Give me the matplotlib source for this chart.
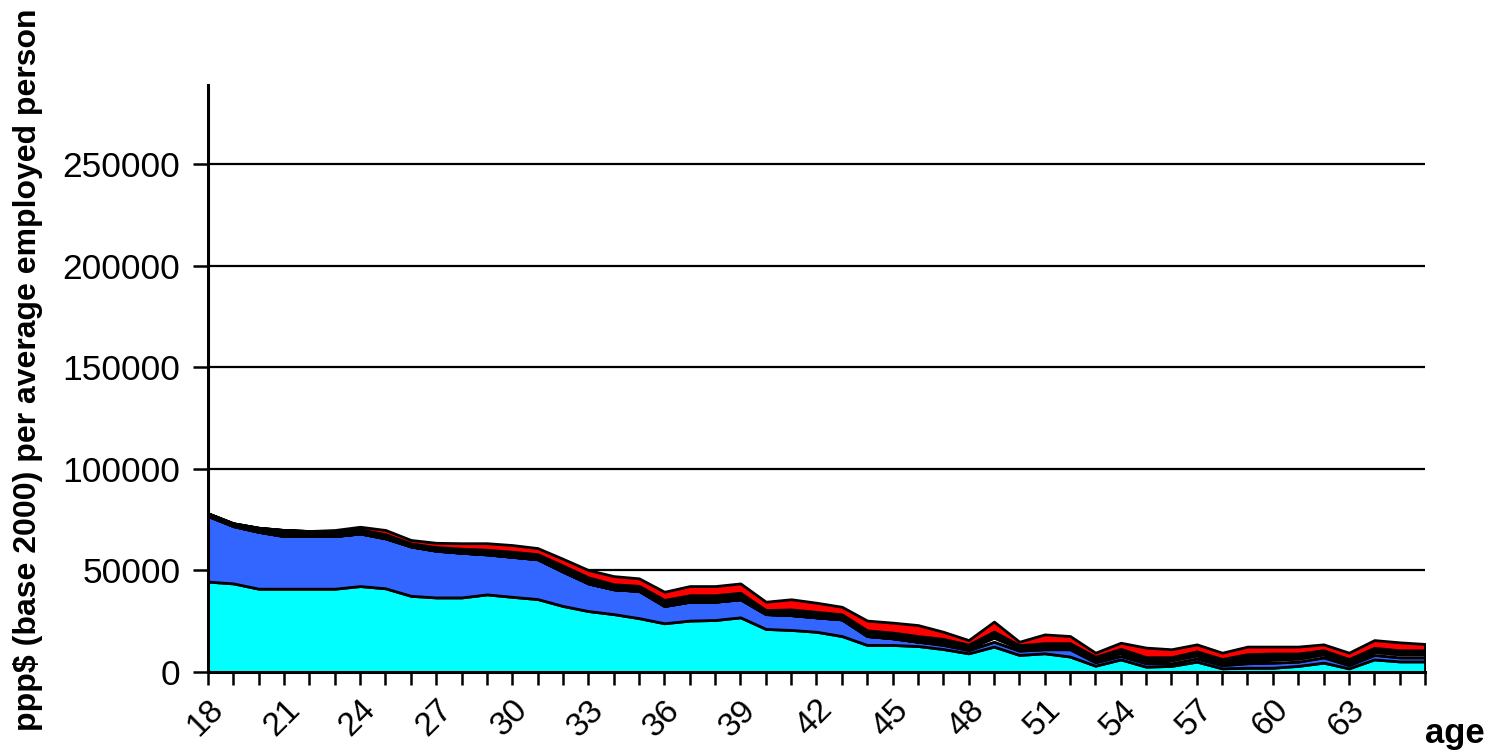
import matplotlib
matplotlib.use("Agg")
from matplotlib import pyplot as plt

plt.rcParams['font.family'] = ['Liberation Sans', 'DejaVu Sans']

ages = list(range(18, 67))

# layer values, bottom to top
cyan = [44500, 43600, 41000, 41000, 41000, 41000, 42300, 41200, 37500, 36700,
        36700, 38200, 37000, 35900, 32500, 30000, 28500, 26500, 24000, 25300,
        25600, 26900, 21200, 20700, 19800, 17700, 13300, 13300, 12800, 11300,
        9200, 12500, 8400, 9200, 7600, 3100, 6200, 2600, 3000, 5100,
        1800, 2100, 2100, 3000, 4600, 1800, 6200, 5200, 5200]
blue = [32300, 28200, 28000, 25900, 25900, 25900, 25900, 24600, 24300, 23000,
        22000, 19700, 19700, 19600, 16900, 13600, 12200, 13400, 8500, 9300,
        9000, 8900, 7300, 7300, 7100, 8200, 4400, 3300, 2100, 2000,
        1600, 2400, 2100, 2000, 3600, 1700, 1700, 1700, 1300, 1600,
        1600, 2200, 2500, 2100, 2600, 1600, 2200, 2000, 2000]
white = [0, 0, 0, 0, 0, 0, 0, 0, 0, 0,
         0, 0, 0, 0, 0, 0, 0, 0, 0, 0,
         0, 0, 0, 0, 0, 0, 0, 0, 0, 500,
         1000, 2000, 1200, 500, 500, 1200, 1500, 500, 1500, 1500,
         1000, 1000, 1500, 1500, 1500, 1000, 1500, 1500, 1500]
black = [1300, 1400, 2000, 3000, 2500, 2500, 2000, 2000, 1500, 1800,
         2000, 2300, 2500, 2500, 3000, 3000, 2500, 2500, 3000, 3200,
         3200, 3200, 2000, 2800, 2700, 2500, 2800, 2800, 2800, 2500,
         1700, 3000, 1500, 2500, 2500, 1500, 2000, 2500, 1500, 2000,
         2000, 3500, 3000, 2500, 2000, 2000, 2000, 2000, 2000]
red = [0, 0, 0, 0, 0, 500, 1300, 2100, 1700, 2100,
       2700, 3200, 3300, 3000, 3300, 3600, 4000, 3700, 4000, 4500,
       4500, 4600, 4100, 5000, 4500, 3700, 4800, 4900, 5400, 3500,
       2200, 4900, 1700, 4300, 3500, 2000, 3000, 4700, 3900, 3400,
       3100, 3700, 3400, 3400, 2900, 3100, 3800, 3900, 3100]

colors = ['#00FFFF', '#3366FF', '#FFFFFF', '#000000', '#FF0000']

fig = plt.figure(figsize=(14.89, 7.52), dpi=100)
ax = fig.add_axes([0.1397, 0.1064, 0.957 - 0.1397, 0.887 - 0.1064])

for y in range(50000, 300000, 50000):
    ax.axhline(y, color='black', lw=1.6, zorder=0)

ax.stackplot(ages, cyan, blue, white, black, red, colors=colors,
             edgecolor='black', linewidth=2, zorder=2)

ax.set_xlim(18, 66)
ax.set_ylim(0, 289000)

ax.set_yticks(range(0, 300000, 50000))
ax.set_yticklabels([str(v) for v in range(0, 300000, 50000)], fontsize=25.5)

ax.set_xticks(ages)
ax.set_xticklabels([str(a) if (a - 18) % 3 == 0 and a < 66 else '' for a in ages],
                   fontsize=24, rotation=45, ha='right', rotation_mode='anchor')
ax.tick_params(axis='x', length=9, width=1.8, pad=7, direction='out')
ax.tick_params(axis='y', length=11, width=1.8, pad=9, direction='out')

for s in ['top', 'right']:
    ax.spines[s].set_visible(False)
for s in ['left', 'bottom']:
    ax.spines[s].set_linewidth(2.2)
    ax.spines[s].set_zorder(3)

fig.text(0.019, 0.508, 'ppp$ (base 2000) per average employed person',
         rotation=90, fontsize=23, fontweight='bold', ha='center', va='center')
fig.text(0.977, 0.024, 'age', fontsize=25, fontweight='bold', ha='center', va='center')

fig.savefig('out.png', dpi=100)
